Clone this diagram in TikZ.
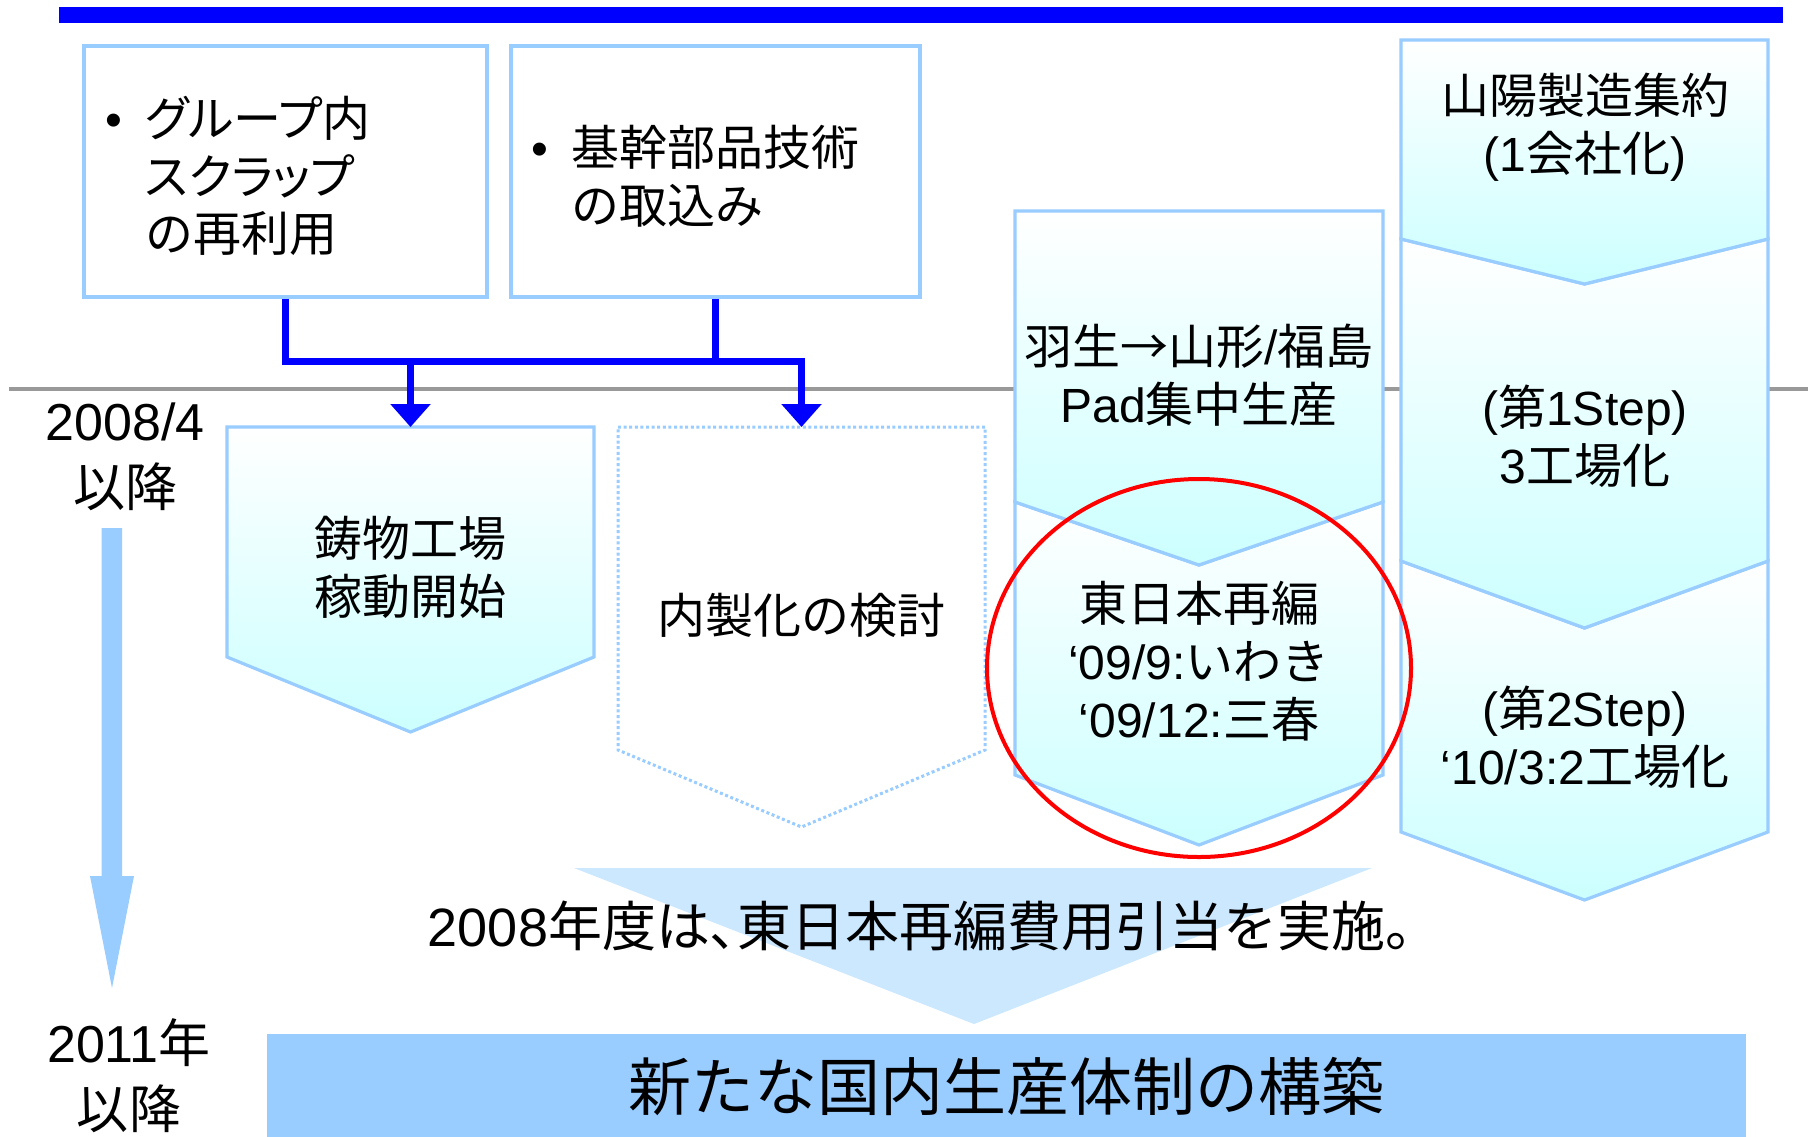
\documentclass[tikz,border=0pt]{standalone}
\usepackage{fontspec}
\setmainfont{Noto Sans CJK JP}
\newfontfamily\jpp{Noto Sans CJK JP}[RawFeature=+palt]
\newfontfamily\latf{Liberation Sans}
\newcommand\la[1]{{\latf #1}}
\newcommand\pj[1]{{\jpp #1}}
\newcommand\bul{\la{•}\hspace{11.5pt}}
\newcommand\nobul{\hphantom{\bul}}
\usetikzlibrary{arrows.meta}
\definecolor{barblue}{RGB}{0,0,255}
\definecolor{lineblue}{RGB}{153,204,255}
\definecolor{cyanL}{RGB}{204,255,255}
\definecolor{triblue}{RGB}{204,232,255}
\definecolor{grayline}{RGB}{153,153,153}
\definecolor{redline}{RGB}{255,0,0}
\newcommand\chevshape[7][]{%
  \path[#1] (#2,#4) -- ({(#2+#3)/2},{#4+#5}) -- (#3,#4) -- (#3,#6)
    -- ({(#2+#3)/2},{#6+#7}) -- (#2,#6) -- cycle;}
\tikzset{
  txt/.style={font=\fontsize{24}{28.9}\selectfont, align=center, inner sep=0pt},
  lab/.style={font=\fontsize{26}{33}\selectfont, align=center, inner sep=0pt},
  topbox/.style={draw=lineblue, line width=1.75pt, fill=white, minimum height=125.5pt, inner sep=0pt},
  chevfill/.style={draw=lineblue, line width=1.6pt, top color=white, bottom color=cyanL},
  conn/.style={draw=barblue, line width=3.5pt},
  conntip/.style={-{Triangle[width=19.5pt,length=11.5pt]}}
}
\begin{document}
\begin{tikzpicture}[x=0.5pt, y=-0.5pt]
\useasboundingbox (0,0) rectangle (1808,1136);
\fill[white] (0,0) rectangle (1808,1136);
% top bar
\fill[barblue] (59,7) rectangle (1783,23);
% gray time line
\draw[grayline, line width=2pt] (9,389) -- (1808,389);
% top boxes
\node[topbox, minimum width=201.5pt] (A) at (285.5,171.5) {};
\node[topbox, minimum width=204.5pt] (B) at (715.5,171.5) {};
\node[txt, align=left, anchor=west] (tA) at (105,176) {\bul \pj{グループ}内\\\nobul \pj{スクラップ}\\\nobul の再利用};
\node[txt, align=left, anchor=west] (tB) at (531,176.5) {\bul 基幹部品技術\\\nobul の取込み};
% chevrons
\chevshape[chevfill]{227}{594}{427}{0}{657}{75}
\chevshape[draw=lineblue, line width=1.5pt, dash pattern=on 1.5pt off 1.3pt]{618}{985}{427}{0}{750}{77}
\chevshape[chevfill]{1015}{1383}{502}{63}{775}{70}
\chevshape[chevfill]{1015}{1383}{211}{0}{502}{63}
\chevshape[chevfill]{1401}{1768}{561}{67}{832}{68}
\chevshape[chevfill]{1401}{1768}{239}{45}{561}{67}
\chevshape[chevfill]{1401}{1768}{40}{0}{239}{45}
\coordinate (C1top) at (410.5,427);
\coordinate (C2top) at (801.5,427);
\coordinate (jL) at (410.5,361);
\coordinate (jR) at (801.5,361);
% connectors
\draw[conn] (B.south) -- (B.south |- jR);
\draw[conn, conntip] (A.south) |- (jR) -- (C2top);
\draw[conn, conntip] (jL) -- (C1top);
% chevron texts
\node[txt] (tC1) at (410.5,567) {鋳物工場\\稼動開始};
\node[txt] (tC2) at (801.5,615) {内製化の検討};
\node[txt] (tU3) at (1199,375) {羽生→山形\la{/}福島\\\la{Pad}集中生産};
\node[txt] (tL3) at (1199,661) {東日本再編\\\la{‘09/9:}いわき\\\la{‘09/12:}三春};
\node[txt] (tT4) at (1585,127) {山陽製造集約\\\la{(1}会社化\la{)}};
\node[txt] (tM4) at (1585,436) {\la{(}第\la{1Step)}\\\la{3}工場化};
\node[txt] (tB4) at (1585,737) {\la{(}第\la{2Step)}\\\la{‘10/3:2}工場化};
% red ellipse
\draw[redline, line width=2pt] (1199,668) ellipse [x radius=212, y radius=189];
% big triangle
\fill[triblue] (574,868) -- (1372,868) -- (974,1024) -- cycle;
\node[font=\fontsize{27}{32}\selectfont, inner sep=0pt] (tTri) at (933.5,926) {\la{2008}年度は\pj{、}東日本再編費用引当を実施。};
% left labels and arrow
\node[lab] (L1) at (125,457) {\la{2008/4}\\以降};
\node[lab] (L2) at (129,1076) {\la{2011}年\\以降};
\fill[lineblue] (101.5,528) -- (122,528) -- (122,876) -- (134,876) -- (112,988) -- (90,876) -- (101.5,876) -- cycle;
% bottom bar
\node[fill=lineblue, minimum width=739.5pt, minimum height=53pt, inner sep=0pt] (bottom) at (1006.5,1086.5) {};
\node[font=\fontsize{31.5}{36}\selectfont, inner sep=0pt] (tBot) at (1006,1087) {新たな国内生産体制の構築};
\end{tikzpicture}
\end{document}
